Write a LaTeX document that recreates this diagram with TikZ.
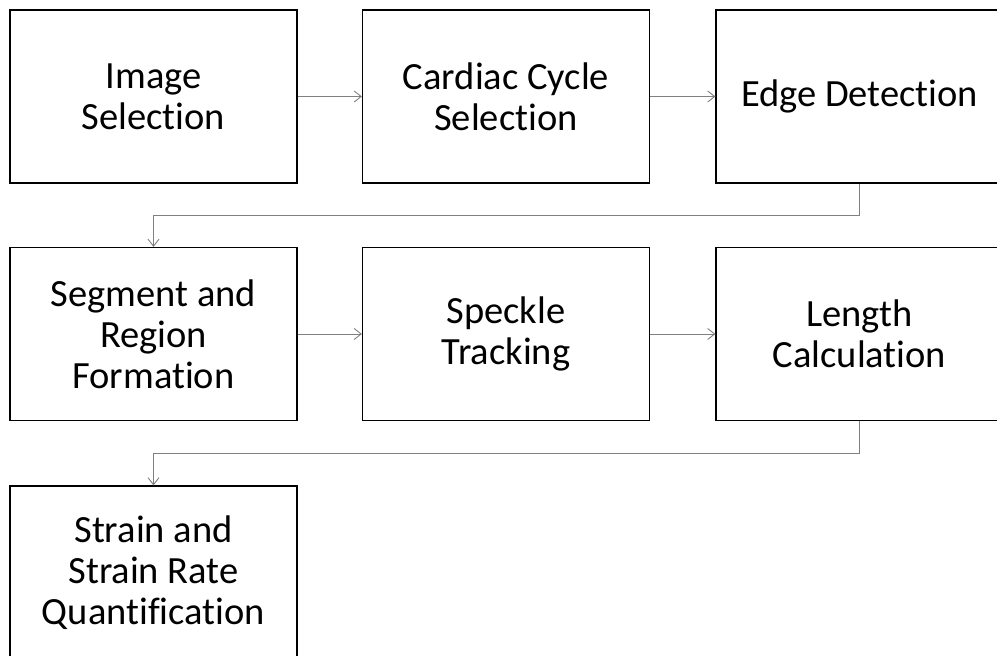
\documentclass[tikz,border=0pt]{standalone}
\usepackage{fontspec}
\setmainfont{Carlito}[RawFeature=-liga]
\usetikzlibrary{arrows.meta}

\begin{document}
\begin{tikzpicture}[x=1pt, y=-1pt,
    stage/.style={draw=black, line width=1.2pt, minimum width=287pt, minimum height=173pt,
      align=center, font=\fontsize{38.5}{41}\selectfont, inner sep=0pt},
    flow/.style={-{Straight Barb[length=7pt, width=11pt]}, draw=gray, line width=0.9pt}]
      \useasboundingbox (0,0) rectangle (997,656);

      % Nodes
      \node[stage] (img) at (153.5, 96.5) {Image\\Selection};
      \node[stage] (cyc) at (506, 96.5) {Cardiac Cycle\\Selection};
      \node[stage] (edge) at (859.5, 96.5) {Edge Detection};
      \node[stage] (seg) at (153.5, 334) {Segment and\\Region\\Formation};
      \node[stage] (spk) at (506, 334) {Speckle\\Tracking};
      \node[stage] (len) at (859.5, 334) {Length\\Calculation};
      \node[stage] (str) at (153.5, 572.5) {Strain and\\Strain Rate\\Quantification};

      % Edges
      \draw[flow] (img) -- (cyc);
      \draw[flow] (cyc) -- (edge);
      \draw[flow] (edge.south) -- ++(0, 32) -| (seg.north);
      \draw[flow] (seg) -- (spk);
      \draw[flow] (spk) -- (len);
      \draw[flow] (len.south) -- ++(0, 32) -| (str.north);

    \end{tikzpicture}
\end{document}
